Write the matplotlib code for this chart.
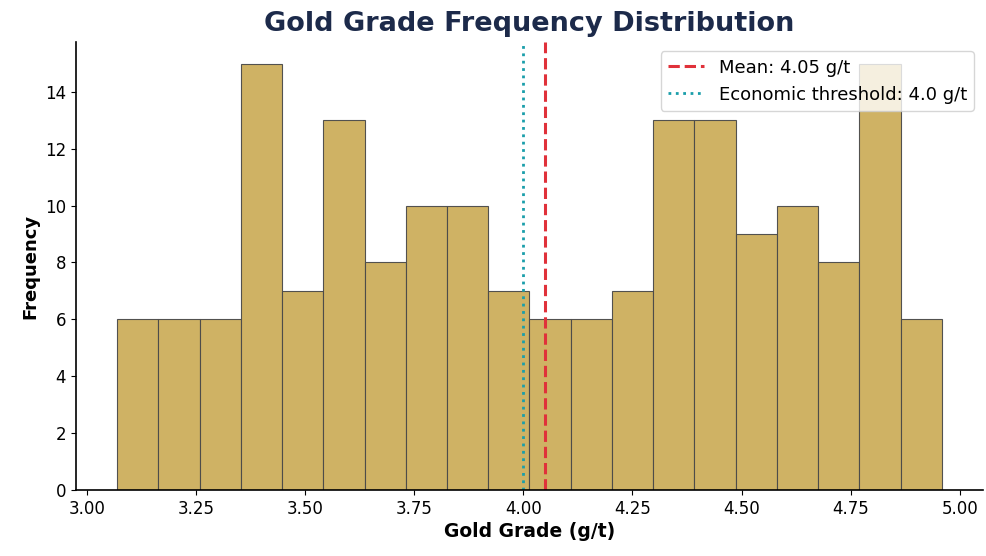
import numpy as np
import matplotlib
matplotlib.use("Agg")
import matplotlib.pyplot as plt

# histogram counts (20 bins)
counts = [6, 6, 6, 15, 7, 13, 8, 10, 10, 7, 6, 6, 7, 13, 13, 9, 10, 8, 15, 6]
grade_min = 3.069
grade_max = 4.959
mean_grade = 4.05
threshold = 4.0

edges = np.linspace(grade_min, grade_max, len(counts) + 1)
width = edges[1] - edges[0]

fig, ax = plt.subplots(figsize=(9.86, 5.56), dpi=100)
ax.bar(edges[:-1], counts, width=width, align='edge', color='#CDAE5C',
       edgecolor='#4a4a4a', linewidth=0.8, alpha=0.95)

ax.axvline(mean_grade, color='#E0313A', linestyle='--', linewidth=2.2,
           label=f'Mean: {mean_grade:.2f} g/t')
ax.axvline(threshold, color='#1A9EAA', linestyle=':', linewidth=2.0,
           label=f'Economic threshold: {threshold} g/t')

ax.set_title('Gold Grade Frequency Distribution', fontsize=19.5, fontweight='bold',
             color='#1C2A4A', pad=8)
ax.set_xlabel('Gold Grade (g/t)', fontsize=13.5, fontweight='bold', labelpad=3)
ax.set_ylabel('Frequency', fontsize=13, fontweight='bold')
ax.set_xticks(np.arange(3.0, 5.01, 0.25))
ax.set_yticks(range(0, 15, 2))
ax.tick_params(labelsize=12)
for s in ['left', 'bottom']:
    ax.spines[s].set_linewidth(1.2)
ax.spines['top'].set_visible(False)
ax.spines['right'].set_visible(False)
ax.legend(loc='upper right', fontsize=13, framealpha=0.8, handlelength=2.0)

plt.subplots_adjust(left=0.077, right=0.997, top=0.924, bottom=0.119)
plt.savefig('out.png', dpi=100)
